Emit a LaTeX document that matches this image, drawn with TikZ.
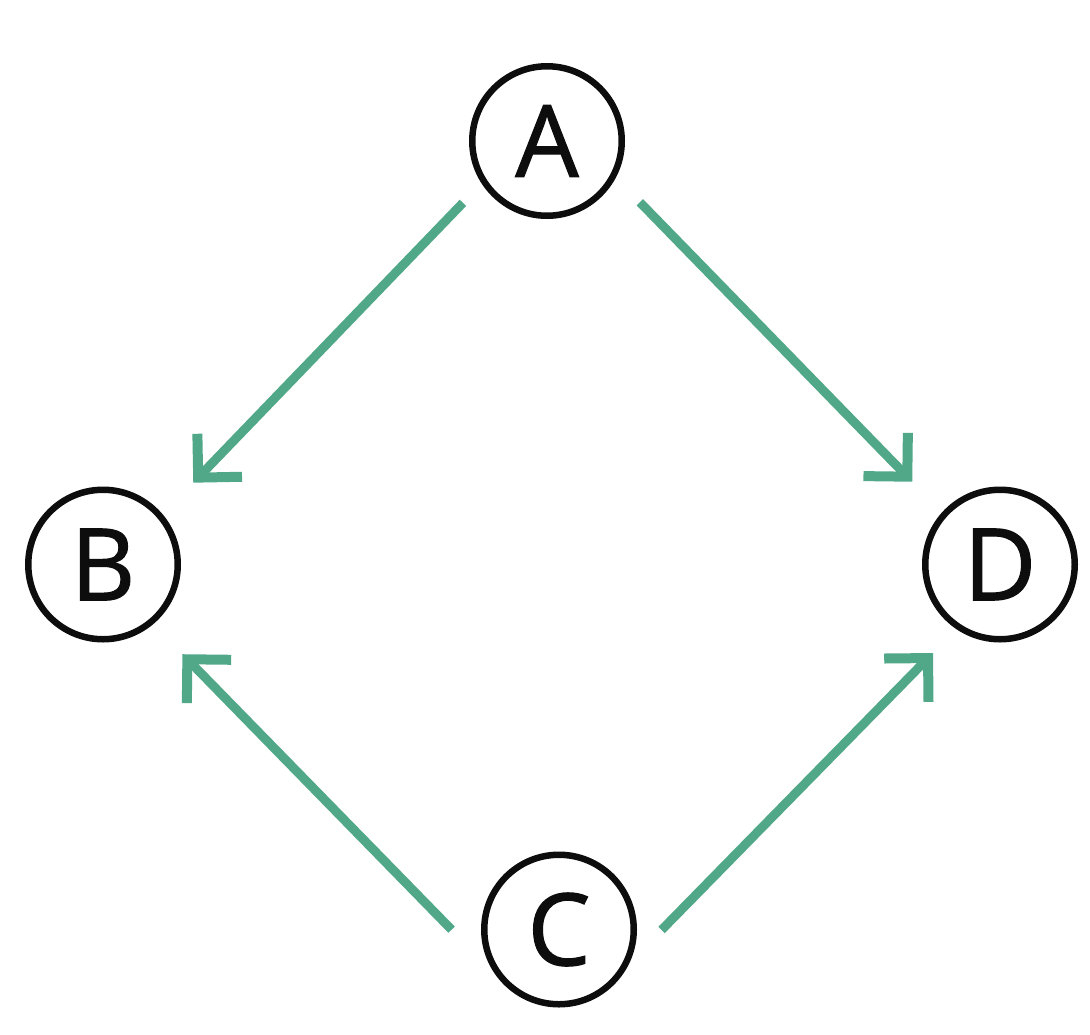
\documentclass[tikz,border=0pt]{standalone}
\usepackage{fontspec}
\setmainfont{Open Sans}
\newfontfamily\labelfont{Open Sans}[FakeBold=1.2]
\usetikzlibrary{arrows.meta}
\definecolor{edgegreen}{HTML}{50A888}
\definecolor{ringblack}{HTML}{0D0D0D}
\begin{document}
\begin{tikzpicture}[x=1pt, y=-1pt,
  vertex/.style={circle, draw=ringblack, line width=6.5pt, minimum size=149.5pt,
    inner sep=0pt, font=\labelfont\fontsize{100}{120}\selectfont, text=ringblack},
  link/.style={draw=edgegreen, line width=9pt,
    -{Straight Barb[length=31pt, width=62pt, line width=10pt]}}]
  \useasboundingbox (0,0) rectangle (1090,1034);

  \node[vertex] (A) at (547,141)    {A};
  \node[vertex] (B) at (103,564.5)  {B};
  \node[vertex] (C) at (559,929.5)  {C};
  \node[vertex] (D) at (1000,564.5) {D};

  \draw[link, shorten <=26.9pt, shorten >=44pt]   (A.213.2) -- (B.40.7);
  \draw[link, shorten <=34.4pt, shorten >=42.7pt] (A.332.3) -- (D.138.3);
  \draw[link, shorten <=62.3pt, shorten >=41.9pt] (C.215.4) -- (B.310.4);
  \draw[link, shorten <=45.5pt, shorten >=33.4pt] (C.335.8) -- (D.236);
\end{tikzpicture}
\end{document}
